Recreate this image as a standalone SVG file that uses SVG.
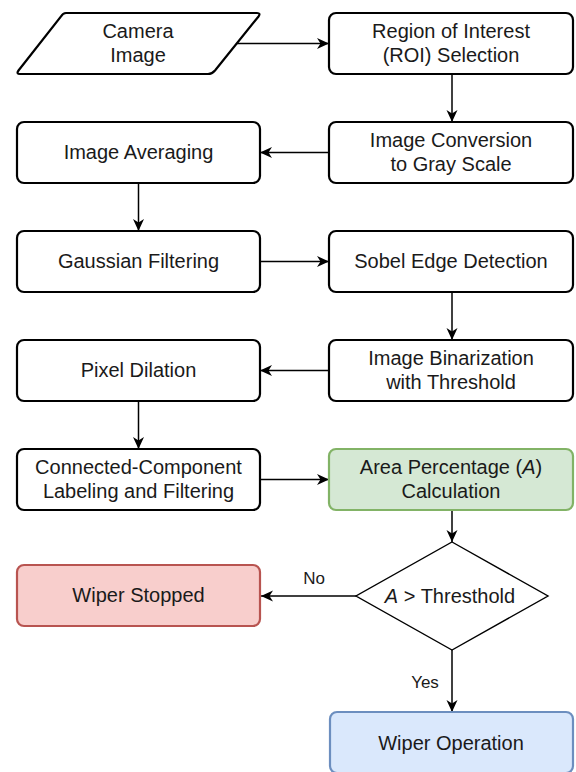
<svg xmlns="http://www.w3.org/2000/svg" width="576" height="772" viewBox="0 0 576 772">
<defs>
<style>
.box{fill:#ffffff;stroke:#000000;stroke-width:2.2}
.green{fill:#d5e8d4;stroke:#82b366;stroke-width:2.2}
.red{fill:#f8cecc;stroke:#b85450;stroke-width:2.2}
.blue{fill:#dae8fc;stroke:#6c8ebf;stroke-width:2.2}
.dia{fill:#ffffff;stroke:#000000;stroke-width:1.4}
.t{font-family:"Liberation Sans",Arial,Helvetica,sans-serif;font-size:20px;fill:#1a1a1a;text-anchor:middle}
.lbl{font-family:"Liberation Sans",Arial,Helvetica,sans-serif;font-size:17px;fill:#1a1a1a;text-anchor:middle}
.c{fill:none;stroke:#000000;stroke-width:1.5}
</style>
<marker id="arr" markerUnits="userSpaceOnUse" markerWidth="14" markerHeight="12" refX="12" refY="6" orient="auto">
<path d="M0,0.5 L12,6 L0,11.5 L3.5,6 Z" fill="#000000"/>
</marker>
</defs>

<g id="connectors">
<path class="c" d="M236,43.5 L329,43.5" marker-end="url(#arr)"/>
<path class="c" d="M452,74 L452,122" marker-end="url(#arr)"/>
<path class="c" d="M329,152.5 L260,152.5" marker-end="url(#arr)"/>
<path class="c" d="M138.5,183 L138.5,231" marker-end="url(#arr)"/>
<path class="c" d="M260,261.5 L329,261.5" marker-end="url(#arr)"/>
<path class="c" d="M452,292 L452,340" marker-end="url(#arr)"/>
<path class="c" d="M329,370.5 L260,370.5" marker-end="url(#arr)"/>
<path class="c" d="M138.5,401 L138.5,449" marker-end="url(#arr)"/>
<path class="c" d="M260,479.5 L329,479.5" marker-end="url(#arr)"/>
<path class="c" d="M452,510 L452,542" marker-end="url(#arr)"/>
<path class="c" d="M356,596 L261,596" marker-end="url(#arr)"/>
<path class="c" d="M452,650 L452,712" marker-end="url(#arr)"/>
<text class="lbl" x="314" y="584">No</text>
<text class="lbl" x="425" y="688">Yes</text>
</g>

<g id="camera-image">
<path class="box" d="M66,13 L257,13 Q261,13 258.5,16.5 L215,70.5 Q212,74 208,74 L20,74 Q16,74 18.5,70.5 L61,16.5 Q63,13 66,13 Z"/>
<text class="t" x="138" y="38">Camera</text>
<text class="t" x="138" y="62">Image</text>
</g>

<g id="roi-selection">
<rect class="box" x="329" y="13" width="244" height="61" rx="7"/>
<text class="t" x="451" y="38">Region of Interest</text>
<text class="t" x="451" y="62">(ROI) Selection</text>
</g>

<g id="gray-scale">
<rect class="box" x="329" y="122" width="244" height="61" rx="7"/>
<text class="t" x="451" y="147">Image Conversion</text>
<text class="t" x="451" y="171">to Gray Scale</text>
</g>

<g id="image-averaging">
<rect class="box" x="17" y="122" width="243" height="61" rx="7"/>
<text class="t" x="138.5" y="159">Image Averaging</text>
</g>

<g id="gaussian-filtering">
<rect class="box" x="17" y="231" width="243" height="61" rx="7"/>
<text class="t" x="138.5" y="268">Gaussian Filtering</text>
</g>

<g id="sobel-edge">
<rect class="box" x="329" y="231" width="244" height="61" rx="7"/>
<text class="t" x="451" y="268">Sobel Edge Detection</text>
</g>

<g id="binarization">
<rect class="box" x="329" y="340" width="244" height="61" rx="7"/>
<text class="t" x="451" y="365">Image Binarization</text>
<text class="t" x="451" y="389">with Threshold</text>
</g>

<g id="pixel-dilation">
<rect class="box" x="17" y="340" width="243" height="61" rx="7"/>
<text class="t" x="138.5" y="377">Pixel Dilation</text>
</g>

<g id="connected-component">
<rect class="box" x="17" y="449" width="243" height="61" rx="7"/>
<text class="t" x="138.5" y="474">Connected-Component</text>
<text class="t" x="138.5" y="498">Labeling and Filtering</text>
</g>

<g id="area-percentage">
<rect class="green" x="329" y="449" width="244" height="61" rx="7"/>
<text class="t" x="451" y="474">Area Percentage (<tspan font-style="italic">A</tspan>)</text>
<text class="t" x="451" y="498">Calculation</text>
</g>

<g id="decision">
<path class="dia" d="M452,542 L548,596 L452,650 L356,596 Z"/>
<text class="t" x="450" y="603"><tspan font-style="italic">A</tspan> &gt; Thresthold</text>
</g>

<g id="wiper-stopped">
<rect class="red" x="17" y="565" width="243" height="61" rx="7"/>
<text class="t" x="138.5" y="602">Wiper Stopped</text>
</g>

<g id="wiper-operation">
<rect class="blue" x="330" y="712" width="243" height="61" rx="7"/>
<text class="t" x="451" y="750">Wiper Operation</text>
</g>
</svg>
